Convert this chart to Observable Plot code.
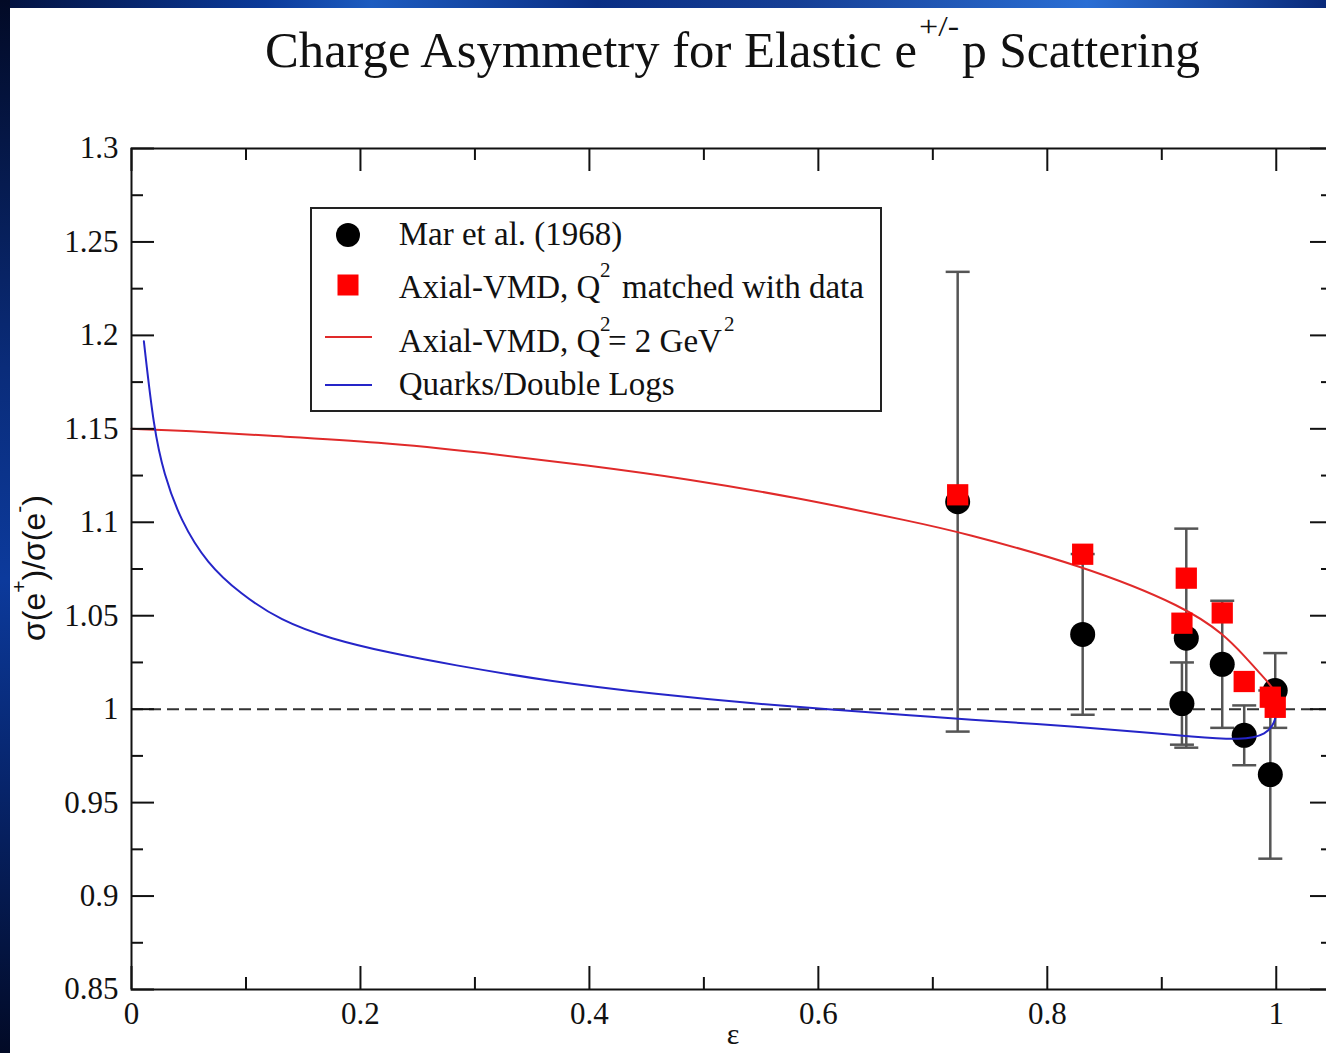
<!DOCTYPE html>
<html><head><meta charset="utf-8">
<script src="https://cdn.jsdelivr.net/npm/d3@7"></script>
<script src="https://cdn.jsdelivr.net/npm/@observablehq/plot@0.6"></script>
<style>
html,body{margin:0;padding:0;}
body{width:1326px;height:1053px;overflow:hidden;position:relative;background:#06174d;}
#bgLeft{position:absolute;left:0;top:0;width:10px;height:1053px;background:linear-gradient(180deg,#020a26 0%,#0a2c7a 35%,#0c3a9c 55%,#07246a 75%,#020a26 100%);}
#bgTop{position:absolute;left:0;top:0;width:1326px;height:8px;background:linear-gradient(90deg,#03123f 0%,#0b3a9a 20%,#1d5cc0 28%,#0a2f85 45%,#163f95 60%,#2a6ed4 82%,#0a2a7a 100%);}
#panel{position:absolute;left:10px;top:8px;width:1330px;height:1060px;background:#fff;}
#chart{position:absolute;left:0;top:0;width:1340px;}
#overlay{position:absolute;left:0;top:0;}
.serif{font-family:'Liberation Serif','Times New Roman',serif;fill:#111;}
.sans{font-family:'Liberation Sans',Arial,sans-serif;fill:#111;}
</style></head>
<body>
<div id="bgTop"></div><div id="bgLeft"></div><div id="panel"></div>
<div id="chart"></div>
<svg id="overlay" width="1326" height="1053">
  <!-- title -->
  <text class="serif" x="265" y="67" font-size="50" textLength="652" lengthAdjust="spacingAndGlyphs">Charge Asymmetry for Elastic e</text>
  <text class="serif" x="919" y="36" font-size="30" textLength="40" lengthAdjust="spacingAndGlyphs">+/-</text>
  <text class="serif" x="962" y="67" font-size="50" textLength="238" lengthAdjust="spacingAndGlyphs">p Scattering</text>
  <!-- legend -->
  <rect x="311" y="208" width="570" height="203" fill="#fff" stroke="#222" stroke-width="2"/>
  <circle cx="348" cy="235" r="12" fill="#000"/>
  <rect x="337.5" y="274.5" width="21" height="21" fill="#f00"/>
  <line x1="325" x2="372" y1="337" y2="337" stroke="#e02a2a" stroke-width="2"/>
  <line x1="325" x2="372" y1="385" y2="385" stroke="#2525c8" stroke-width="2"/>
  <text class="serif" x="398.7" y="245" font-size="33">Mar et al. (1968)</text>
  <text class="serif" x="398.7" y="298" font-size="33">Axial-VMD, Q</text>
  <text class="serif" x="600" y="277" font-size="21">2</text>
  <text class="serif" x="622" y="298" font-size="33">matched with data</text>
  <text class="serif" x="398.7" y="352" font-size="33">Axial-VMD, Q</text>
  <text class="serif" x="600" y="331" font-size="21">2</text>
  <text class="serif" x="608" y="352" font-size="33">= 2 GeV</text>
  <text class="serif" x="724" y="331" font-size="21">2</text>
  <text class="serif" x="398.7" y="395" font-size="33">Quarks/Double Logs</text>
  <!-- axis labels -->
  <text class="sans" transform="translate(45,568) rotate(-90)" text-anchor="middle" font-size="32">σ(e<tspan dy="-19" font-size="21">+</tspan><tspan dy="19" font-size="32">)/σ(e</tspan><tspan dy="-19" font-size="21">-</tspan><tspan dy="19" font-size="32">)</tspan></text>
  <text class="serif" x="733" y="1044" text-anchor="middle" font-size="30">ε</text>
</svg>
<script>
// Mar et al. (1968) data: epsilon, ratio, error
const marEps   = [0.7217, 0.8309, 0.9214, 0.9176, 0.9528, 0.9720, 0.9948, 0.9991];
const marRatio = [1.1110, 1.0400, 1.0380, 1.0030, 1.0240, 0.9860, 0.9650, 1.0100];
const marErr   = [0.1230, 0.0430, 0.0586, 0.0220, 0.0340, 0.0160, 0.0450, 0.0200];

// Axial-VMD, Q^2 matched with data
const vmdEps   = [0.7217, 0.8309, 0.9214, 0.9176, 0.9528, 0.9720, 0.9948, 0.9991];
const vmdRatio = [1.1147, 1.0829, 1.0701, 1.0460, 1.0515, 1.0148, 1.0064, 1.0010];

// Axial-VMD, Q^2 = 2 GeV^2 curve
const redEps   = [0, 0.05, 0.1156, 0.2175, 0.3077, 0.3979, 0.4881, 0.5783, 0.6866, 0.7217, 0.8309, 0.9214, 0.9550, 0.9720, 0.9860, 0.9950, 1.0];
const redRatio = [1.150, 1.149, 1.1464, 1.1430, 1.1372, 1.1305, 1.1230, 1.1135, 1.0998, 1.0950, 1.0769, 1.0545, 1.0395, 1.0285, 1.0190, 1.0130, 1.0080];

// Quarks / Double Logs curve
const blueEps   = [0.0108, 0.0195, 0.0282, 0.0428, 0.0661, 0.0952, 0.1301, 0.1738, 0.2262, 0.2776, 0.3679, 0.4581, 0.5483, 0.6085, 0.6866, 0.7217, 0.8309, 0.8987, 0.9214, 0.9715, 0.9918, 0.9977, 0.9991];
const blueRatio = [1.1969, 1.1500, 1.1260, 1.1010, 1.0778, 1.0617, 1.0474, 1.0376, 1.0300, 1.0240, 1.0146, 1.0080, 1.0027, 1.0000, 0.9964, 0.9949, 0.9904, 0.9868, 0.9856, 0.9832, 0.9868, 0.9922, 0.9950];

// Axis ticks
const xMajor = [0, 0.2, 0.4, 0.6, 0.8, 1];
const xMinor = [0.1, 0.3, 0.5, 0.7, 0.9];
const yMajor = [0.85, 0.9, 0.95, 1, 1.05, 1.1, 1.15, 1.2, 1.25, 1.3];
const yMinor = [0.875, 0.925, 0.975, 1.025, 1.075, 1.125, 1.175, 1.225, 1.275];

const mar = marEps.map((e, i) => ({eps: e, ratio: marRatio[i], lo: marRatio[i] - marErr[i], hi: marRatio[i] + marErr[i]}));
const vmd = vmdEps.map((e, i) => ({eps: e, ratio: vmdRatio[i]}));
const red = redEps.map((e, i) => ({eps: e, ratio: redRatio[i]}));
const blue = blueEps.map((e, i) => ({eps: e, ratio: blueRatio[i]}));

const W = 1340, H = 1053, ML = 131, MT = 148, MR = 7, MB = 64;
const PW = W - ML - MR, PH = H - MT - MB;
const MAJ = 23, MIN = 12;

const capSymbol = {draw(ctx, size) { const h = Math.sqrt(size / Math.PI); ctx.moveTo(-h, 0); ctx.lineTo(h, 0); }};

const tickStyle = {stroke: "#111", strokeWidth: 2};

const chart = Plot.plot({
  width: W, height: H,
  marginLeft: ML, marginTop: MT, marginRight: MR, marginBottom: MB,
  x: {domain: [0, 1.05]},
  y: {domain: [0.85, 1.3]},
  style: {background: "transparent", fontFamily: "'Liberation Serif','Times New Roman',serif", fontSize: "31px", color: "#111", overflow: "visible", maxWidth: "none", width: W + "px", height: H + "px"},
  marks: [
    Plot.ruleY([1], {stroke: "#333", strokeWidth: 2, strokeDasharray: "12,6"}),
    Plot.ruleX(mar, {x: "eps", y1: "lo", y2: "hi", stroke: "#555", strokeWidth: 2.5}),
    Plot.dot(mar, {x: "eps", y: "hi", symbol: capSymbol, r: 12, fill: "none", stroke: "#555", strokeWidth: 2.5}),
    Plot.dot(mar, {x: "eps", y: "lo", symbol: capSymbol, r: 12, fill: "none", stroke: "#555", strokeWidth: 2.5}),
    Plot.dot(mar, {x: "eps", y: "ratio", r: 12.5, fill: "#000", stroke: "none"}),
    Plot.line(red, {x: "eps", y: "ratio", curve: "basis", stroke: "#e02a2a", strokeWidth: 2}),
    Plot.line(blue, {x: "eps", y: "ratio", curve: "basis", stroke: "#2525c8", strokeWidth: 2}),
    Plot.dot(vmd, {x: "eps", y: "ratio", symbol: "square", r: 12, fill: "#f00", stroke: "none"}),
    // inward ticks on all four sides
    Plot.tickY(yMajor, {y: d => d, insetRight: PW - MAJ, ...tickStyle}),
    Plot.tickY(yMinor, {y: d => d, insetRight: PW - MIN, ...tickStyle}),
    Plot.tickY(yMajor, {y: d => d, insetLeft: PW - MAJ, ...tickStyle}),
    Plot.tickY(yMinor, {y: d => d, insetLeft: PW - MIN, ...tickStyle}),
    Plot.tickX(xMajor, {x: d => d, insetTop: PH - MAJ, ...tickStyle}),
    Plot.tickX(xMinor, {x: d => d, insetTop: PH - MIN, ...tickStyle}),
    Plot.tickX(xMajor, {x: d => d, insetBottom: PH - MAJ, ...tickStyle}),
    Plot.tickX(xMinor, {x: d => d, insetBottom: PH - MIN, ...tickStyle}),
    Plot.frame({stroke: "#111", strokeWidth: 2}),
    Plot.axisY({ticks: yMajor, tickSize: 0, tickPadding: 13, tickFormat: d => String(d), label: null}),
    Plot.axisX({ticks: xMajor, tickSize: 0, tickPadding: 12, tickFormat: d => String(d), label: null})
  ]
});
document.getElementById("chart").appendChild(chart);
</script>
</body></html>
